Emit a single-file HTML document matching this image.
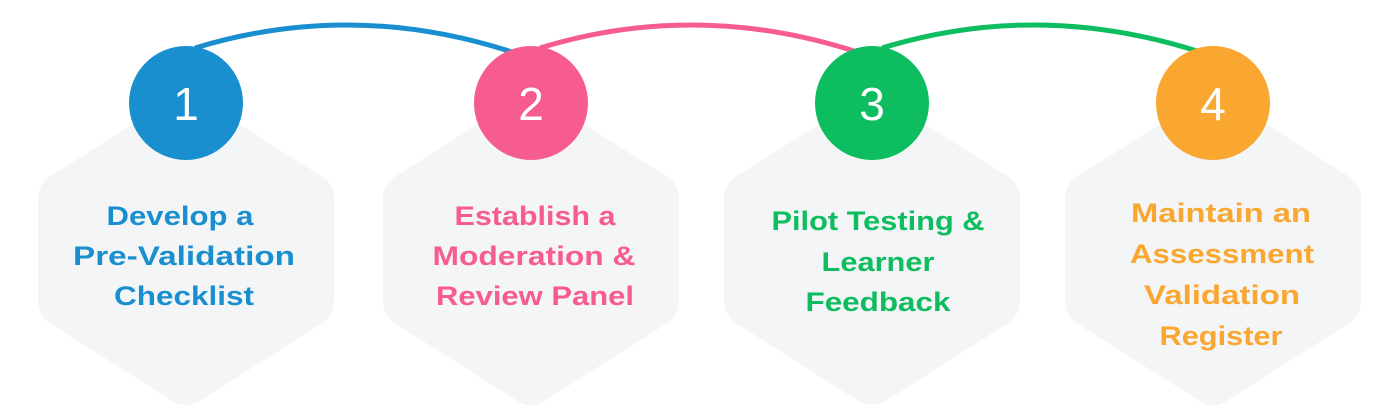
<!DOCTYPE html>
<html><head><meta charset="utf-8"><style>
html,body{margin:0;padding:0;background:#fff;}
svg{display:block;}
text{font-family:"Liberation Sans",sans-serif;font-weight:bold;text-anchor:middle;}
</style></head><body>
<svg width="1400" height="415" viewBox="0 0 1400 415" xmlns="http://www.w3.org/2000/svg">
<defs>
<polygon id="hx" points="0,-130 123,-52 123,52 0,130 -123,52 -123,-52" fill="#f4f5f6" stroke="#f4f5f6" stroke-width="50" stroke-linejoin="round"/>
</defs>
<use href="#hx" x="186" y="250"/>
<use href="#hx" x="531" y="250"/>
<use href="#hx" x="872" y="250"/>
<use href="#hx" x="1213" y="250"/>
<path d="M195,48 Q352,0 512,52" fill="none" stroke="#1a8fd0" stroke-width="5"/>
<path d="M540,48 Q697,0 857,52" fill="none" stroke="#f75c8f" stroke-width="5"/>
<path d="M882,48 Q1039,0 1200,52" fill="none" stroke="#0dbd5f" stroke-width="5"/>
<circle cx="186" cy="103" r="57" fill="#1a8fd0"/>
<circle cx="531" cy="103" r="57" fill="#f75c8f"/>
<circle cx="872" cy="103" r="57" fill="#0dbd5f"/>
<circle cx="1213" cy="103" r="57" fill="#f9a731"/>
<g fill="#fff" font-size="46">
<text x="186" y="120" style="font-weight:normal">1</text>
<text x="531" y="120" style="font-weight:normal">2</text>
<text x="872" y="120" style="font-weight:normal">3</text>
<text x="1213" y="120" style="font-weight:normal">4</text>
</g>
<g font-size="27" fill="#1a8fd0" lengthAdjust="spacingAndGlyphs">
<text x="180" y="225" textLength="147" lengthAdjust="spacingAndGlyphs">Develop a</text>
<text x="184" y="265" textLength="222" lengthAdjust="spacingAndGlyphs">Pre-Validation</text>
<text x="184" y="305" textLength="140" lengthAdjust="spacingAndGlyphs">Checklist</text>
</g>
<g font-size="27" fill="#f75c8f">
<text x="535" y="225" textLength="161" lengthAdjust="spacingAndGlyphs">Establish a</text>
<text x="534" y="265" textLength="203" lengthAdjust="spacingAndGlyphs">Moderation &amp;</text>
<text x="535" y="305" textLength="198" lengthAdjust="spacingAndGlyphs">Review Panel</text>
</g>
<g font-size="27" fill="#0dbd5f">
<text x="878" y="230" textLength="213" lengthAdjust="spacingAndGlyphs">Pilot Testing &amp;</text>
<text x="878" y="271" textLength="113" lengthAdjust="spacingAndGlyphs">Learner</text>
<text x="878" y="311" textLength="145" lengthAdjust="spacingAndGlyphs">Feedback</text>
</g>
<g font-size="27" fill="#f9a731">
<text x="1221" y="222" textLength="180" lengthAdjust="spacingAndGlyphs">Maintain an</text>
<text x="1222" y="263" textLength="184" lengthAdjust="spacingAndGlyphs">Assessment</text>
<text x="1222" y="304" textLength="156" lengthAdjust="spacingAndGlyphs">Validation</text>
<text x="1221" y="345" textLength="123" lengthAdjust="spacingAndGlyphs">Register</text>
</g>
</svg>
</body></html>
